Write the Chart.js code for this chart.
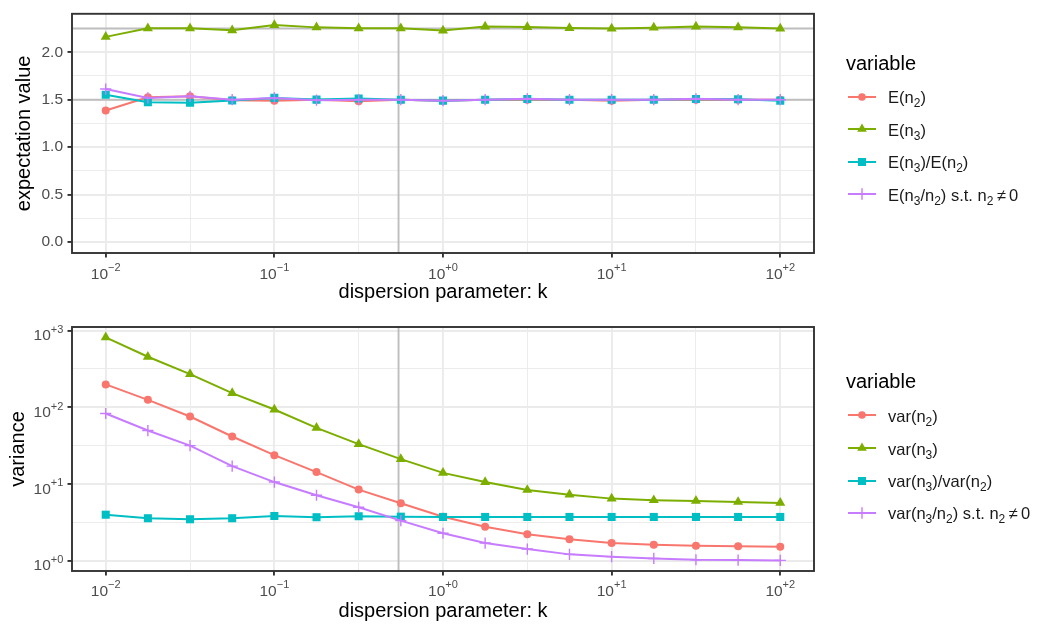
<!DOCTYPE html>
<html>
<head>
<meta charset="utf-8">
<script src="https://cdn.jsdelivr.net/npm/chart.js@4"></script>
<style>
body{margin:0;background:#fff;font-family:"Liberation Sans",Arial,sans-serif}
#wrap{position:relative;width:1040px;height:628px;overflow:hidden}
canvas{position:absolute;left:0}
.lg-title{position:absolute;left:846px;font-size:20px;line-height:20px;color:#000;white-space:nowrap}
.lg-key{position:absolute;left:848px;width:28px;height:20px}
.lg-text{position:absolute;left:888px;font-size:16.5px;line-height:20px;color:#1a1a1a;white-space:nowrap}
.lg-text sub{font-size:12px;vertical-align:-4px;line-height:0}
</style>
</head>
<body>
<div id="wrap">
  <canvas id="top" width="1040" height="314" style="top:0"></canvas>
  <canvas id="bot" width="1040" height="314" style="top:314px"></canvas>
</div>
<script>
// dispersion parameter k (quarter decades)
const kVals = [0.01, 0.01778, 0.03162, 0.05623, 0.1, 0.1778, 0.3162, 0.5623, 1, 1.778, 3.162, 5.623, 10, 17.78, 31.62, 56.23, 100];
const xMajor = [0.01, 0.1, 1, 10, 100];
const xMinor = [0.03162, 0.3162, 3.162, 31.62];
const kMark = 0.545;

// expectation values
const eN2      = [1.387, 1.525, 1.536, 1.495, 1.49, 1.50, 1.484, 1.50, 1.49, 1.50, 1.50, 1.50, 1.49, 1.50, 1.50, 1.50, 1.50];
const eN3      = [2.162, 2.252, 2.252, 2.231, 2.286, 2.262, 2.252, 2.252, 2.228, 2.270, 2.265, 2.255, 2.249, 2.259, 2.270, 2.262, 2.249];
const eRatio   = [1.553, 1.474, 1.467, 1.491, 1.519, 1.501, 1.512, 1.50, 1.49, 1.50, 1.508, 1.50, 1.50, 1.50, 1.508, 1.504, 1.49];
const eRatioN  = [1.612, 1.519, 1.536, 1.50, 1.519, 1.495, 1.50, 1.50, 1.49, 1.50, 1.51, 1.50, 1.50, 1.50, 1.51, 1.50, 1.50];
const eMajor = [0, 0.5, 1, 1.5, 2];
const eMinor = [0.25, 0.75, 1.25, 1.75, 2.25];
const eRef = [1.5, 2.25];

// variances
const vN2     = [199, 125, 75.9, 41.6, 23.8, 14.3, 8.45, 5.61, 3.75, 2.78, 2.21, 1.90, 1.70, 1.62, 1.57, 1.54, 1.52];
const vN3     = [815, 456, 271, 153, 93.6, 54, 33.1, 21.1, 13.96, 10.6, 8.37, 7.27, 6.45, 6.15, 6.02, 5.84, 5.67];
const vRatio  = [3.98, 3.58, 3.47, 3.58, 3.83, 3.69, 3.80, 3.75, 3.72, 3.72, 3.72, 3.72, 3.72, 3.72, 3.72, 3.72, 3.72];
const vRatioN = [83, 49.8, 31.7, 17.1, 10.6, 7.14, 4.98, 3.33, 2.28, 1.70, 1.42, 1.21, 1.13, 1.07, 1.03, 1.02, 1.01];
const vMajor = [1, 10, 100, 1000];
const vMinor = [3.162, 31.62, 316.2];

const colors = ['#F8766D', '#7CAE00', '#00BFC4', '#C77CFF'];
const shapes = ['circle', 'triangle', 'rect', 'cross'];
const radii  = [4, 5.8, 5.7, 5.6];

const eLabels = ['E(n<sub>2</sub>)', 'E(n<sub>3</sub>)', 'E(n<sub>3</sub>)/E(n<sub>2</sub>)', 'E(n<sub>3</sub>/n<sub>2</sub>) s.t. n<sub>2</sub>&#8201;&ne;&#8201;0'];
const vLabels = ['var(n<sub>2</sub>)', 'var(n<sub>3</sub>)', 'var(n<sub>3</sub>)/var(n<sub>2</sub>)', 'var(n<sub>3</sub>/n<sub>2</sub>) s.t. n<sub>2</sub>&#8201;&ne;&#8201;0'];

const FONT = '"Liberation Sans", Arial, sans-serif';
Chart.defaults.font.family = FONT;

function tickList(major, minor){
  return major.map(v=>({value:v, major:true}))
    .concat(minor.map(v=>({value:v, major:false})))
    .sort((a,b)=>a.value-b.value);
}

function gridOpts(){
  return {
    color: '#EBEBEB',
    lineWidth: c => (c.tick && c.tick.major) ? 1.9 : 0.95,
    drawTicks: true, tickLength: 4.5,
    tickColor: c => (c.tick && c.tick.major) ? '#333333' : 'rgba(0,0,0,0)',
    tickWidth: 1.9
  };
}

function series(label, ys, i){
  return {
    label, data: kVals.map((k,j)=>({x:k, y:ys[j]})),
    borderColor: colors[i], backgroundColor: colors[i], borderWidth: 2,
    pointStyle: shapes[i], pointRadius: radii[i],
    pointBackgroundColor: colors[i], pointBorderColor: colors[i],
    pointBorderWidth: shapes[i] === 'cross' ? 1.4 : 0,
    order: 3 - i
  };
}

function expText(v){ const e = Math.round(Math.log10(v)); return (e < 0 ? '\u2212' : '+') + Math.abs(e); }

// "10^e" tick labels for the log axes
const powLabels = {
  id: 'powLabels',
  afterDraw(chart, args, o){
    const ctx = chart.ctx;
    const big = '15.5px ' + FONT, small = '11px ' + FONT;
    ctx.save();
    ctx.fillStyle = '#4D4D4D';
    ctx.textBaseline = 'alphabetic';
    ctx.textAlign = 'left';
    const sx = chart.scales.x;
    xMajor.forEach(v=>{
      const e = expText(v);
      ctx.font = big; const w1 = ctx.measureText('10').width;
      ctx.font = small; const w2 = ctx.measureText(e).width;
      const x0 = sx.getPixelForValue(v) - (w1 + w2) / 2;
      ctx.font = big; ctx.fillText('10', x0, sx.top + o.xBase);
      ctx.font = small; ctx.fillText(e, x0 + w1, sx.top + o.xBase - 8);
    });
    if(o.logY){
      const sy = chart.scales.y;
      vMajor.forEach(v=>{
        const e = expText(v);
        const py = sy.getPixelForValue(v);
        ctx.font = small; const w2 = ctx.measureText(e).width;
        ctx.font = big; const w1 = ctx.measureText('10').width;
        const xr = sy.right - 8.7;
        ctx.fillText('10', xr - w2 - w1, py + 9.7);
        ctx.font = small; ctx.fillText(e, xr - w2, py + 2.3);
      });
    }
    ctx.restore();
  }
};

// reference lines under the data, panel border on top
const refLines = {
  id: 'refLines',
  beforeDatasetsDraw(chart, args, o){
    const {ctx, chartArea: ca, scales} = chart;
    ctx.save();
    ctx.strokeStyle = '#BEBEBE'; ctx.lineWidth = 1.9;
    (o.h || []).forEach(v=>{
      const y = scales.y.getPixelForValue(v);
      ctx.beginPath(); ctx.moveTo(ca.left, y); ctx.lineTo(ca.right, y); ctx.stroke();
    });
    (o.v || []).forEach(v=>{
      const x = scales.x.getPixelForValue(v);
      ctx.beginPath(); ctx.moveTo(x, ca.top); ctx.lineTo(x, ca.bottom); ctx.stroke();
    });
    ctx.restore();
  },
  afterDraw(chart){
    const {ctx, chartArea: ca} = chart;
    ctx.save();
    ctx.strokeStyle = '#333333'; ctx.lineWidth = 1.9;
    ctx.strokeRect(ca.left, ca.top, ca.right - ca.left, ca.bottom - ca.top);
    ctx.restore();
  }
};

function xScale(h, pad){
  return {
    type: 'logarithmic', min: 0.00631, max: 158.5, bounds: 'data',
    afterBuildTicks: s => { s.ticks = tickList(xMajor, xMinor); },
    afterFit: s => { s.height = h; },
    ticks: { autoSkip: false, maxRotation: 0, callback: () => '' },
    grid: gridOpts(),
    border: { display: false },
    title: { display: true, text: 'dispersion parameter: k', color: '#000', font: { size: 20 }, padding: { top: 0, bottom: pad } }
  };
}

// top panel: expectation values
new Chart(document.getElementById('top'), {
  type: 'line',
  data: { datasets: [series('E(n2)', eN2, 0), series('E(n3)', eN3, 1), series('E(n3)/E(n2)', eRatio, 2), series('E(n3/n2)', eRatioN, 3)] },
  options: {
    responsive: false, animation: false, events: [],
    layout: { padding: { top: 10, right: 226, left: 0, bottom: 0 } },
    scales: {
      x: xScale(61, 10),
      y: {
        type: 'linear', min: -0.115, max: 2.405, bounds: 'data',
        afterBuildTicks: s => { s.ticks = tickList(eMajor, eMinor); },
        afterFit: s => { s.width = 72; },
        ticks: { autoSkip: false, padding: 4.5, color: '#4D4D4D', font: { size: 15.5 },
                 callback: (v, i, t) => t[i].major ? v.toFixed(1) : '' },
        grid: gridOpts(),
        border: { display: false },
        title: { display: true, text: 'expectation value', color: '#000', font: { size: 20 }, padding: { top: 12.7, bottom: 0 } }
      }
    },
    plugins: { legend: { display: false }, tooltip: { enabled: false },
               refLines: { h: eRef, v: [kMark] }, powLabels: { xBase: 26.3, logY: false } }
  },
  plugins: [refLines, powLabels]
});

// bottom panel: variances
new Chart(document.getElementById('bot'), {
  type: 'line',
  data: { datasets: [series('var(n2)', vN2, 0), series('var(n3)', vN3, 1), series('var(n3)/var(n2)', vRatio, 2), series('var(n3/n2)', vRatioN, 3)] },
  options: {
    responsive: false, animation: false, events: [],
    layout: { padding: { top: 13, right: 226, left: 0, bottom: 0 } },
    scales: {
      x: xScale(57, 5),
      y: {
        type: 'logarithmic', min: 0.7345, max: 1114, bounds: 'data',
        afterBuildTicks: s => { s.ticks = tickList(vMajor, vMinor); },
        afterFit: s => { s.width = 72; },
        ticks: { autoSkip: false, callback: () => '' },
        grid: gridOpts(),
        border: { display: false },
        title: { display: true, text: 'variance', color: '#000', font: { size: 20 }, padding: { top: 6, bottom: 0 } }
      }
    },
    plugins: { legend: { display: false }, tooltip: { enabled: false },
               refLines: { v: [kMark] }, powLabels: { xBase: 24.7, logY: true } }
  },
  plugins: [refLines, powLabels]
});

// legends (ggplot style, with subscripts)
function keySvg(i){
  const c = colors[i];
  let m = '';
  if(shapes[i] === 'circle') m = `<circle cx="14" cy="10" r="3.8" fill="${c}"/>`;
  if(shapes[i] === 'triangle') m = `<polygon points="14,4.4 18.8,12.8 9.2,12.8" fill="${c}"/>`;
  if(shapes[i] === 'rect') m = `<rect x="10" y="6" width="8" height="8" fill="${c}"/>`;
  if(shapes[i] === 'cross') m = `<path d="M8.3 10H19.7M14 4.3V15.7" stroke="${c}" stroke-width="1.4"/>`;
  return `<svg width="28" height="20"><line x1="0" y1="10" x2="28" y2="10" stroke="${c}" stroke-width="2"/>${m}</svg>`;
}

function buildLegend(titleBase, rows, labels){
  const wrap = document.getElementById('wrap');
  const t = document.createElement('div');
  t.className = 'lg-title'; t.textContent = 'variable';
  t.style.top = (titleBase - 16.9) + 'px';
  wrap.appendChild(t);
  labels.forEach((lab, i)=>{
    const k = document.createElement('div');
    k.className = 'lg-key'; k.style.top = (rows[i] - 10) + 'px';
    k.innerHTML = keySvg(i);
    wrap.appendChild(k);
    const s = document.createElement('div');
    s.className = 'lg-text'; s.style.top = (rows[i] - 9.3) + 'px';
    s.innerHTML = lab;
    wrap.appendChild(s);
  });
}
buildLegend(69.5, [96.7, 129.3, 161.7, 194], eLabels);
buildLegend(388.3, [415, 448.3, 480.7, 512.7], vLabels);
</script>
</body>
</html>
